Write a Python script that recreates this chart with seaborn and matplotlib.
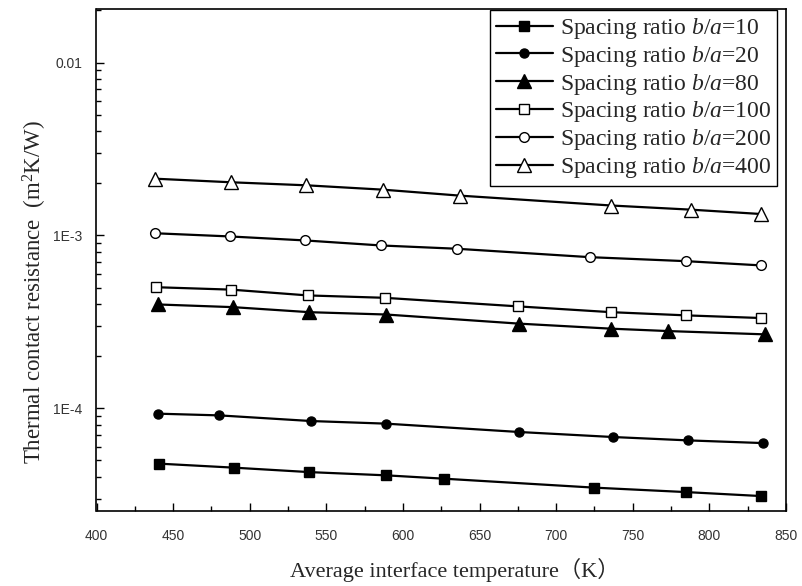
import matplotlib
matplotlib.use("Agg")
import matplotlib.pyplot as plt
import seaborn as sns
import pandas as pd
from matplotlib.ticker import NullFormatter, FixedLocator, MultipleLocator

sns.set_theme(style="white")
plt.rcParams['font.family'] = ['Liberation Serif', 'Noto Sans CJK SC', 'DejaVu Sans']
plt.rcParams['mathtext.fontset'] = 'custom'
plt.rcParams['mathtext.rm'] = 'Liberation Serif'
plt.rcParams['mathtext.it'] = 'Liberation Serif:italic'

# ---- data ----
labels = ["10", "20", "80", "100", "200", "400"]

t_10 = [441, 490, 539, 589, 627, 725, 785, 834]
r_10 = [4.79e-5, 4.54e-5, 4.28e-5, 4.10e-5, 3.92e-5, 3.48e-5, 3.28e-5, 3.11e-5]

t_20 = [440, 480, 540, 589, 676, 737, 786, 835]
r_20 = [9.32e-5, 9.11e-5, 8.45e-5, 8.16e-5, 7.30e-5, 6.83e-5, 6.53e-5, 6.30e-5]

t_80 = [440, 489, 539, 589, 676, 736, 773, 836]
r_80 = [3.99e-4, 3.85e-4, 3.60e-4, 3.49e-4, 3.09e-4, 2.89e-4, 2.80e-4, 2.68e-4]

t_100 = [439, 488, 538, 588, 675, 736, 785, 834]
r_100 = [5.02e-4, 4.86e-4, 4.50e-4, 4.36e-4, 3.89e-4, 3.60e-4, 3.45e-4, 3.33e-4]

t_200 = [438, 487, 536, 586, 635, 722, 785, 834]
r_200 = [1.03e-3, 0.987e-3, 0.936e-3, 0.875e-3, 0.838e-3, 0.749e-3, 0.710e-3, 0.671e-3]

t_400 = [438, 488, 537, 587, 637, 736, 788, 834]
r_400 = [2.13e-3, 2.03e-3, 1.95e-3, 1.84e-3, 1.70e-3, 1.49e-3, 1.41e-3, 1.33e-3]

x_ticks = [400, 450, 500, 550, 600, 650, 700, 750, 800, 850]
y_ticks = [1e-4, 1e-3, 1e-2]
y_tick_labels = ["1E-4", "1E-3", "0.01"]

series_t = [t_10, t_20, t_80, t_100, t_200, t_400]
series_r = [r_10, r_20, r_80, r_100, r_200, r_400]

# ---- styles ----
styles = [
    dict(marker='s', markerfacecolor='black', markersize=7.5),
    dict(marker='o', markerfacecolor='black', markersize=6.5),
    dict(marker='^', markerfacecolor='black', markersize=9.5),
    dict(marker='s', markerfacecolor='white', markersize=7.5),
    dict(marker='o', markerfacecolor='white', markersize=7),
    dict(marker='^', markerfacecolor='white', markersize=10),
]

L, R, T, B = 96.5, 786, 9, 511
fig = plt.figure(figsize=(8.03, 5.86), dpi=100)
ax = fig.add_axes([L/803, 1-B/586, (R-L)/803, (B-T)/586])

for lab, t, r, st in zip(labels, series_t, series_r, styles):
    df = pd.DataFrame({"T": t, "R": r})
    sns.lineplot(data=df, x="T", y="R", ax=ax, color='black', linewidth=1.6,
                 markeredgecolor='black', markeredgewidth=1.0,
                 label=f"Spacing ratio $b/a$={lab}", **st)

ax.set_yscale('log')
ax.set_xlim(400, 850)
ax.set_ylim(2.55e-5, 0.0204)

ax.xaxis.set_major_locator(FixedLocator(x_ticks))
ax.xaxis.set_minor_locator(MultipleLocator(25))
ax.yaxis.set_major_locator(FixedLocator(y_ticks))
ax.set_yticklabels(y_tick_labels)
minor_y = [m * 10.0**e for e in range(-5, -1) for m in range(2, 10)]
ax.yaxis.set_minor_locator(FixedLocator(minor_y))
ax.yaxis.set_minor_formatter(NullFormatter())

ax.tick_params(axis='both', which='major', direction='in', length=6, width=1.0,
               color='black', labelsize=10, labelcolor='#333333')
ax.tick_params(axis='x', which='major', pad=13)
ax.tick_params(axis='y', which='major', pad=10)
ax.tick_params(axis='both', which='minor', direction='in', length=3.5, width=1.0,
               color='black')
ax.tick_params(axis='both', which='both', top=False, right=False, left=True, bottom=True)
for lbl in ax.get_xticklabels() + ax.get_yticklabels():
    lbl.set_family(['Liberation Sans', 'DejaVu Sans'])

for sp in ax.spines.values():
    sp.set_visible(True)
    sp.set_color('black')
    sp.set_linewidth(1.2)

ax.set_xlabel("Average interface temperature（K）", fontsize=16,
              family=['Liberation Serif', 'Noto Sans CJK SC'])
ax.xaxis.set_label_coords((455-L)/(R-L), (B-570)/(B-T))
ax.xaxis.label.set_verticalalignment('center')
ax.set_ylabel("Thermal contact resistance  (m$^2$K/W)", fontsize=16.5)
ax.yaxis.set_label_coords((35-L)/(R-L), (B-292)/(B-T))
ax.yaxis.label.set_verticalalignment('center')

leg = ax.legend(loc='upper right', bbox_to_anchor=((777-L)/(R-L), (B-10)/(B-T)),
                borderaxespad=0, fontsize=17, frameon=True, fancybox=False,
                framealpha=1, edgecolor='black', handlelength=2.4,
                handletextpad=0.3, labelspacing=0.12, borderpad=0.25)
leg.get_frame().set_linewidth(1.0)

fig.savefig("out.png", dpi=100, facecolor='white')
